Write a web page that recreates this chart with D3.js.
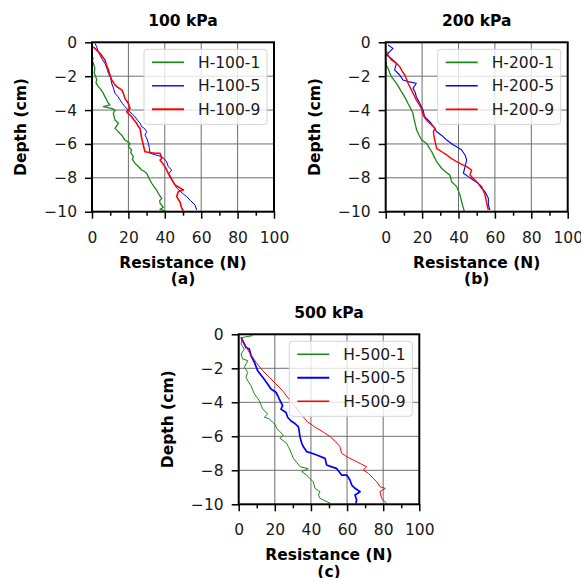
<!DOCTYPE html>
<html>
<head>
<meta charset="utf-8">
<script src="https://cdn.jsdelivr.net/npm/d3@7"></script>
<style>
  body { margin: 0; background: #fff; }
  svg { display: block; font-family: "DejaVu Sans", sans-serif; }
</style>
</head>
<body>
<div id="chart"></div>
<script>
// resistance (N), depth (cm) pairs
var h100_1 = [[0.7,-0.9],[0.2,-1.05],[0.7,-1.24],[1.6,-1.54],[1.2,-1.8],[2.6,-2.2],[2.2,-2.4],[3.5,-2.62],[4.6,-2.75],[6.2,-3.0],[6.8,-3.15],[8.1,-3.4],[8.7,-3.55],[9.9,-3.7],[6.2,-3.8],[10.8,-3.9],[12.6,-4.0],[11.7,-4.2],[12.2,-4.39],[12.6,-4.59],[14.5,-4.78],[12.6,-5.08],[13.8,-5.2],[15.4,-5.38],[16.4,-5.5],[18.1,-5.77],[19.4,-5.85],[20.9,-5.97],[20,-6.16],[21.8,-6.36],[21.2,-6.5],[22.7,-6.75],[22.2,-6.9],[23.6,-7.14],[25.2,-7.3],[27.3,-7.54],[28.4,-7.6],[30,-7.73],[31.2,-8.0],[32.8,-8.32],[33.6,-8.45],[35.5,-8.72],[36.3,-8.9],[38.3,-9.21],[37.2,-9.35],[37.4,-9.5],[39.2,-9.74],[37.4,-9.86],[39.6,-9.94]];
var h100_5 = [[1.6,-0.06],[2.6,-0.26],[3.2,-0.5],[4.4,-0.75],[5.6,-1.0],[7.1,-1.24],[8.2,-1.55],[9,-1.83],[10.2,-2.1],[10.8,-2.42],[11.8,-2.7],[12.6,-3.0],[14.2,-3.2],[15.4,-3.4],[16.6,-3.6],[18.1,-3.8],[20.9,-4.1],[22.2,-4.25],[23.6,-4.39],[25,-4.6],[26.4,-4.78],[27.3,-4.98],[29,-5.1],[30,-5.28],[29.1,-5.48],[30.2,-5.7],[31,-5.97],[31.5,-6.25],[31.9,-6.55],[35,-6.65],[38.3,-6.75],[39.5,-6.85],[41,-7.05],[41.9,-7.34],[43.8,-7.54],[42.2,-7.75],[43.5,-8.0],[45,-8.3],[46.5,-8.6],[49,-8.85],[52,-9.11],[54.2,-9.35],[56.6,-9.6],[57.5,-9.9]];
var h100_9 = [[0.7,-0.26],[1.6,-0.36],[4.4,-0.65],[7.1,-1.04],[7.8,-1.3],[9,-1.63],[9.8,-1.9],[10.8,-2.22],[12.2,-2.45],[13.6,-2.62],[16.3,-2.81],[17.2,-3.0],[18.1,-3.31],[19.9,-3.6],[20.9,-3.9],[19,-4.1],[20.5,-4.25],[21.8,-4.39],[23.2,-4.6],[24.5,-4.78],[25.5,-4.98],[26.4,-5.08],[26.8,-5.35],[27.3,-5.67],[28.2,-6.06],[29.1,-6.46],[34.6,-6.55],[37.4,-6.55],[38.3,-6.85],[37.4,-6.95],[40.1,-7.34],[41.5,-7.65],[42.8,-7.93],[45.6,-8.42],[50.2,-8.72],[47.4,-8.82],[46.5,-9.11],[48.3,-9.41],[49.3,-9.8],[50.2,-9.94]];

var h200_1 = [[0.4,-1.14],[0.2,-1.35],[1.3,-1.54],[2.2,-1.8],[3.1,-2.03],[4.5,-2.22],[5.9,-2.42],[7.2,-2.65],[8.6,-2.91],[10,-3.15],[11.3,-3.4],[12.2,-3.6],[13.2,-3.8],[14.1,-4.0],[15,-4.19],[15.3,-4.4],[15.9,-4.68],[16.8,-5.08],[17,-5.18],[18.4,-5.5],[19.8,-5.77],[22.5,-5.97],[23.8,-6.2],[25.3,-6.46],[26.6,-6.75],[28,-7.05],[30.8,-7.45],[33,-7.65],[35.3,-7.84],[36.2,-8.23],[39,-8.52],[40.8,-9.01],[41.7,-9.41],[42.2,-9.6],[42.7,-9.8],[43.2,-9.95]];
var h200_5 = [[1.3,-0.16],[4,-0.36],[2.2,-0.55],[0.4,-0.75],[3.1,-0.95],[5.9,-1.24],[4.9,-1.63],[7.7,-1.93],[9.5,-2.22],[12.3,-2.32],[16.8,-2.42],[15,-2.72],[16.2,-2.95],[16.8,-3.2],[18.7,-3.6],[19.6,-3.8],[20.5,-4.0],[21.4,-4.39],[24.2,-4.68],[26.9,-5.08],[28,-5.28],[30.8,-5.5],[33.5,-5.77],[37.2,-6.06],[39.5,-6.2],[41.7,-6.36],[43.6,-6.65],[44.5,-6.95],[43.6,-7.34],[42.7,-7.73],[45.4,-7.93],[48.1,-8.13],[50.8,-8.32],[52.7,-8.62],[54.6,-8.82],[56.4,-9.21],[56.4,-9.6],[57.3,-9.9]];
var h200_9 = [[0.4,-0.55],[1.5,-0.8],[3.1,-1.04],[5.9,-1.24],[7.7,-1.44],[9,-1.7],[10.5,-1.93],[12.3,-2.42],[14.1,-2.81],[15.5,-3.1],[16.8,-3.4],[18.3,-3.65],[19.6,-3.9],[20.5,-4.29],[21.8,-4.5],[23.2,-4.68],[25.3,-4.88],[27.1,-5.08],[26.2,-5.28],[26.8,-5.7],[28,-6.26],[30.8,-6.46],[33.5,-6.65],[36,-6.85],[39,-7.05],[41.8,-7.2],[44.5,-7.34],[47.2,-7.54],[46.3,-7.84],[49,-8.13],[51,-8.35],[52.7,-8.52],[54.6,-9.01],[55.5,-9.5],[56.4,-9.9]];

var h500_1 = [[7.7,-0.08],[2.2,-0.18],[1.3,-0.57],[3.1,-0.87],[1.3,-1.16],[2.2,-1.45],[5,-1.55],[3.1,-1.94],[5,-2.24],[4,-2.53],[5.4,-2.8],[6.8,-3.02],[7.8,-3.3],[8.7,-3.51],[10,-3.7],[11.4,-3.9],[12.3,-4.15],[13.3,-4.39],[16,-4.69],[14.2,-4.88],[17,-4.98],[18.8,-5.18],[20.1,-5.3],[21,-5.53],[22.5,-5.7],[24.7,-5.92],[22.9,-6.12],[26.6,-6.41],[27.4,-6.6],[28.4,-6.8],[29.3,-7.05],[30.3,-7.3],[32.2,-7.55],[34,-7.79],[38.5,-7.9],[34.9,-8.08],[37.6,-8.28],[39.5,-8.5],[41.3,-8.67],[42.2,-9.06],[45,-9.26],[44.2,-9.45],[45,-9.65],[47.8,-9.79],[50.6,-9.94]];
var h500_5 = [[1.3,-0.18],[4,-0.77],[5.9,-0.87],[6.8,-1.26],[8.7,-1.65],[10.5,-2.14],[13.3,-2.53],[16,-2.92],[17.9,-3.22],[20.6,-3.41],[21.6,-3.6],[22.5,-3.81],[24.3,-4.2],[23.4,-4.4],[26.2,-4.6],[27.1,-4.88],[29,-5.1],[30.5,-5.2],[33,-5.43],[33.5,-5.7],[33.9,-6.02],[34.9,-6.41],[36,-6.65],[37.6,-6.9],[40.5,-7.0],[43.2,-7.1],[47.8,-7.3],[48.7,-7.69],[51.5,-7.8],[54.2,-7.89],[57,-8.28],[59.8,-8.28],[61.6,-8.57],[62.6,-8.87],[64.4,-9.06],[67.2,-9.26],[64.4,-9.45],[65.3,-9.75],[64.9,-9.94]];
var h500_9 = [[1.3,-0.18],[3.5,-0.6],[5.9,-1.07],[7.7,-1.35],[9.6,-1.65],[13.3,-2.14],[17,-2.53],[20.6,-2.92],[24.3,-3.32],[27.1,-3.71],[30.8,-4.2],[34.5,-4.69],[36.5,-4.95],[38.2,-5.18],[39.5,-5.24],[42,-5.45],[45,-5.63],[47.5,-5.8],[50.6,-6.02],[53.5,-6.3],[56,-6.6],[57,-7.0],[59.2,-7.15],[61.6,-7.3],[64.5,-7.45],[67.2,-7.6],[70.8,-7.79],[69,-7.98],[71.8,-8.18],[74.5,-8.47],[76.4,-8.67],[78.2,-8.96],[81,-9.06],[78.2,-9.26],[79.1,-9.65],[81.9,-9.94]];

var titles = ["100 kPa", "200 kPa", "500 kPa"];
var tags = ["(a)", "(b)", "(c)"];
var names = [["H-100-1", "H-100-5", "H-100-9"], ["H-200-1", "H-200-5", "H-200-9"], ["H-500-1", "H-500-5", "H-500-9"]];
var seriesData = [[h100_1, h100_5, h100_9], [h200_1, h200_5, h200_9], [h500_1, h500_5, h500_9]];
var xTicks = [0, 20, 40, 60, 80, 100];
var xMinor = [10, 30, 50, 70, 90];
var yTicks = [0, -2, -4, -6, -8, -10];

var colors = ["#1a8a1a", "#0000ff", "#ff0000"];
var widths = [[1.3, 1.0, 1.6], [1.3, 1.1, 1.4], [1.0, 1.7, 1.0]];

// plot area boxes: left, top, width, height
var boxes = [[92, 42.3, 182, 169.4], [385.7, 42.3, 182, 169.4], [238.7, 334.3, 180.6, 170]];

var svg = d3.select("#chart").append("svg")
    .attr("width", 581)
    .attr("height", 578);

function drawPanel(p) {
    var b = boxes[p];
    var g = svg.append("g").attr("transform", `translate(${b[0]}, ${b[1]})`);

    var xScale = d3.scaleLinear().domain([0, 100]).range([0, b[2]]);
    var yScale = d3.scaleLinear().domain([-10, 0]).range([b[3], 0]);

    // grid
    g.append("g").selectAll("line")
        .data(xTicks.slice(1, -1))
        .join("line")
        .attr("x1", d => xScale(d)).attr("x2", d => xScale(d))
        .attr("y1", 0).attr("y2", b[3])
        .attr("stroke", "#6e6e6e").attr("stroke-width", 1);
    g.append("g").selectAll("line")
        .data(yTicks.slice(1, -1))
        .join("line")
        .attr("x1", 0).attr("x2", b[2])
        .attr("y1", d => yScale(d)).attr("y2", d => yScale(d))
        .attr("stroke", "#6e6e6e").attr("stroke-width", 1);

    var line = d3.line()
        .x(d => xScale(d[0]))
        .y(d => yScale(d[1]));

    seriesData[p].forEach(function (s, i) {
        g.append("path")
            .datum(s)
            .attr("d", line)
            .attr("fill", "none")
            .attr("stroke", colors[i])
            .attr("stroke-width", widths[p][i])
            .attr("stroke-linejoin", "round");
    });

    // axes
    g.append("g")
        .attr("transform", `translate(0, ${b[3]})`)
        .call(d3.axisBottom(xScale).tickValues(xTicks).tickSize(7).tickPadding(13));
    g.append("g")
        .attr("transform", `translate(0, ${b[3]})`)
        .call(d3.axisBottom(xScale).tickValues(xMinor).tickSize(4).tickFormat(""));
    g.append("g")
        .call(d3.axisLeft(yScale).tickValues(yTicks).tickSize(7).tickPadding(8));

    g.selectAll(".domain").remove();
    g.selectAll(".tick line").attr("stroke", "#000").attr("stroke-width", 1.5);
    g.selectAll(".tick text")
        .attr("fill", "#1a1a1a")
        .style("font-size", "15.5px")
        .style("font-family", "DejaVu Sans, sans-serif");

    // frame
    g.append("rect")
        .attr("width", b[2]).attr("height", b[3])
        .attr("fill", "none")
        .attr("stroke", "#000")
        .attr("stroke-width", 2);

    // legend
    var lw = 123, lh = 75;
    var lg = g.append("g").attr("transform", `translate(${b[2] - 7 - lw}, 7)`);
    lg.append("rect")
        .attr("width", lw).attr("height", lh)
        .attr("rx", 3)
        .attr("fill", "#fff").attr("fill-opacity", 0.8)
        .attr("stroke", "#d4d4d4").attr("stroke-width", 1);
    names[p].forEach(function (n, i) {
        var yy = 13 + i * 23.5;
        lg.append("line")
            .attr("x1", 8).attr("x2", 40)
            .attr("y1", yy).attr("y2", yy)
            .attr("stroke", colors[i])
            .attr("stroke-width", widths[p][i] + 0.4);
        lg.append("text")
            .attr("x", 54).attr("y", yy)
            .attr("dy", "0.36em")
            .attr("fill", "#1a1a1a")
            .style("font-size", "15.5px")
            .text(n);
    });

    // titles and labels
    g.append("text")
        .attr("x", b[2] / 2).attr("y", -16)
        .attr("text-anchor", "middle")
        .style("font-size", "15.5px").style("font-weight", "bold")
        .text(titles[p]);
    g.append("text")
        .attr("x", b[2] / 2).attr("y", b[3] + 56)
        .attr("text-anchor", "middle")
        .style("font-size", "15.5px").style("font-weight", "bold")
        .text("Resistance (N)");
    g.append("text")
        .attr("x", b[2] / 2).attr("y", b[3] + 72.5)
        .attr("text-anchor", "middle")
        .style("font-size", "15.5px").style("font-weight", "bold")
        .text(tags[p]);
    g.append("text")
        .attr("transform", `translate(-66, ${b[3] / 2}) rotate(-90)`)
        .attr("text-anchor", "middle")
        .style("font-size", "15.5px").style("font-weight", "bold")
        .text("Depth (cm)");
}

[0, 1, 2].forEach(drawPanel);
</script>
</body>
</html>
